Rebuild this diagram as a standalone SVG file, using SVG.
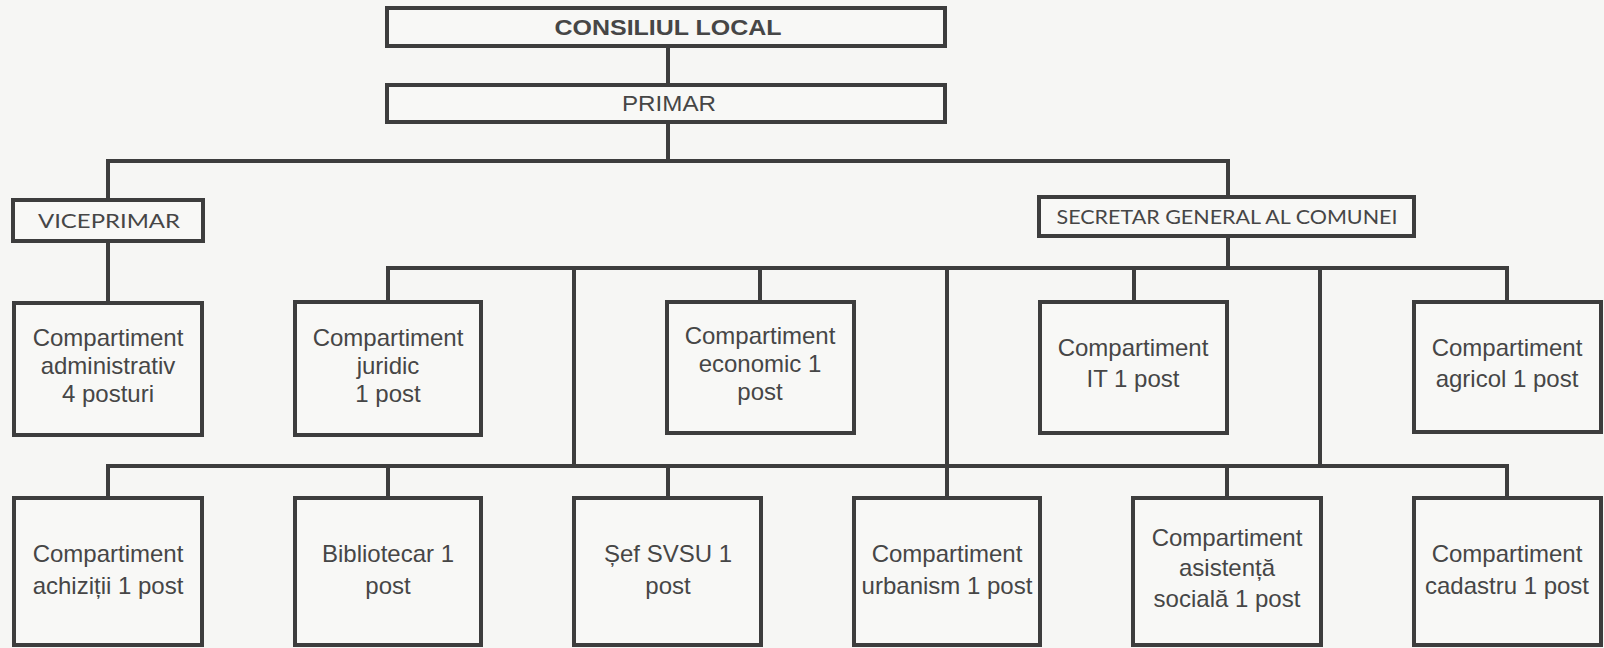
<svg xmlns="http://www.w3.org/2000/svg" width="1604" height="648" viewBox="0 0 1604 648">
<style>
.bg{fill:#f6f6f4}
.box{fill:#f8f8f6;stroke:#3d3d3d;stroke-width:4}
.c{fill:none;stroke:#3d3d3d;stroke-width:4;stroke-linecap:square}
text{font-family:"Liberation Sans",Arial,sans-serif;fill:#464646;text-anchor:middle}
.t{font-size:24px}
.h{font-size:22px}
.b{font-weight:bold}
.cal{font-family:Lato,"Liberation Sans",sans-serif;font-size:20px}
</style>
<rect class="bg" x="0" y="0" width="1604" height="648"/>
<g id="connectors">
<path class="c" d="M668 46V85M668 122V161M108 161H1228M108 161V200M1228 161V197M1228 237V268M388 268H1507M388 268V302M760 268V302M1134 268V302M1507 268V302M574 268V466M947 268V498M1320 268V466M108 241V303M108 466H1507M108 466V498M388 466V498M668 466V498M1227 466V498M1507 466V498"/>
</g>
<g id="consiliul">
<rect class="box" x="387" y="8" width="558" height="38"/>
<text class="h b" x="668" y="35" textLength="227" lengthAdjust="spacingAndGlyphs">CONSILIUL LOCAL</text>
</g>
<g id="primar">
<rect class="box" x="387" y="85" width="558" height="37"/>
<text class="h" x="669" y="111" textLength="94" lengthAdjust="spacingAndGlyphs">PRIMAR</text>
</g>
<g id="viceprimar">
<rect class="box" x="13" y="200" width="190" height="41"/>
<text class="cal" x="109" y="228" textLength="142" lengthAdjust="spacingAndGlyphs">VICEPRIMAR</text>
</g>
<g id="secretar">
<rect class="box" x="1039" y="197" width="375" height="39"/>
<text class="cal" x="1227" y="224" textLength="341" lengthAdjust="spacingAndGlyphs">SECRETAR GENERAL AL COMUNEI</text>
</g>
<g id="administrativ">
<rect class="box" x="14" y="303" width="188" height="132"/>
<text class="t" x="108" y="346">Compartiment</text>
<text class="t" x="108" y="374">administrativ</text>
<text class="t" x="108" y="402">4 posturi</text>
</g>
<g id="juridic">
<rect class="box" x="295" y="302" width="186" height="133"/>
<text class="t" x="388" y="346">Compartiment</text>
<text class="t" x="388" y="374">juridic</text>
<text class="t" x="388" y="402">1 post</text>
</g>
<g id="economic">
<rect class="box" x="667" y="302" width="187" height="131"/>
<text class="t" x="760" y="344">Compartiment</text>
<text class="t" x="760" y="372">economic 1</text>
<text class="t" x="760" y="400">post</text>
</g>
<g id="it">
<rect class="box" x="1040" y="302" width="187" height="131"/>
<text class="t" x="1133" y="356">Compartiment</text>
<text class="t" x="1133" y="387">IT 1 post</text>
</g>
<g id="agricol">
<rect class="box" x="1414" y="302" width="187" height="130"/>
<text class="t" x="1507" y="356">Compartiment</text>
<text class="t" x="1507" y="387">agricol 1 post</text>
</g>
<g id="achizitii">
<rect class="box" x="14" y="498" width="188" height="147"/>
<text class="t" x="108" y="562">Compartiment</text>
<text class="t" x="108" y="594">achiziții 1 post</text>
</g>
<g id="bibliotecar">
<rect class="box" x="295" y="498" width="186" height="147"/>
<text class="t" x="388" y="562">Bibliotecar 1</text>
<text class="t" x="388" y="594">post</text>
</g>
<g id="svsu">
<rect class="box" x="574" y="498" width="187" height="147"/>
<text class="t" x="668" y="562">Șef SVSU 1</text>
<text class="t" x="668" y="594">post</text>
</g>
<g id="urbanism">
<rect class="box" x="854" y="498" width="186" height="147"/>
<text class="t" x="947" y="562">Compartiment</text>
<text class="t" x="947" y="594">urbanism 1 post</text>
</g>
<g id="asistenta">
<rect class="box" x="1133" y="498" width="188" height="147"/>
<text class="t" x="1227" y="546">Compartiment</text>
<text class="t" x="1227" y="576">asistență</text>
<text class="t" x="1227" y="607">socială 1 post</text>
</g>
<g id="cadastru">
<rect class="box" x="1414" y="498" width="187" height="147"/>
<text class="t" x="1507" y="562">Compartiment</text>
<text class="t" x="1507" y="594">cadastru 1 post</text>
</g>
</svg>
